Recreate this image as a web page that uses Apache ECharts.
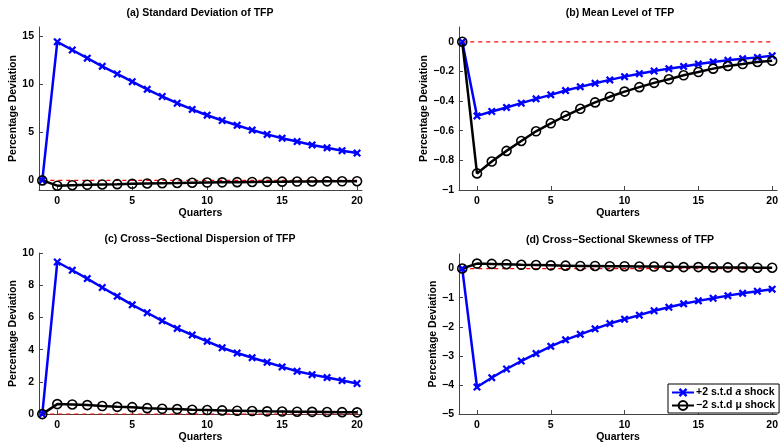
<!DOCTYPE html>
<html>
<head>
<meta charset="utf-8">
<script src="https://cdn.jsdelivr.net/npm/echarts@6/dist/echarts.min.js"></script>
<style>
  html, body { margin: 0; padding: 0; background: #fff; }
  #main { width: 781px; height: 444px; }
</style>
</head>
<body>
<div id="main"></div>
<script>
// quarters after the shock (-1 = pre-shock)
var quarters = [-1, 0, 1, 2, 3, 4, 5, 6, 7, 8, 9, 10, 11, 12, 13, 14, 15, 16, 17, 18, 19, 20];

// (a) standard deviation of TFP
var aBlue  = [0, 14.45, 13.6, 12.75, 11.9, 11.1, 10.3, 9.5, 8.75, 8.05, 7.4, 6.8, 6.25, 5.75, 5.25, 4.8, 4.4, 4.05, 3.7, 3.4, 3.1, 2.85];
var aBlack = [0, -0.55, -0.5, -0.46, -0.42, -0.39, -0.35, -0.32, -0.29, -0.27, -0.24, -0.22, -0.2, -0.18, -0.16, -0.15, -0.13, -0.12, -0.11, -0.1, -0.09, -0.08];
// (b) mean level of TFP
var bBlue  = [0, -0.5, -0.47, -0.443, -0.414, -0.385, -0.358, -0.329, -0.304, -0.28, -0.257, -0.235, -0.215, -0.197, -0.181, -0.166, -0.15, -0.136, -0.125, -0.114, -0.105, -0.094];
var bBlack = [0, -0.888, -0.808, -0.736, -0.669, -0.604, -0.55, -0.499, -0.452, -0.409, -0.371, -0.336, -0.306, -0.277, -0.253, -0.226, -0.204, -0.181, -0.163, -0.15, -0.136, -0.128];
// (c) cross-sectional dispersion
var cBlue  = [0, 9.44, 8.93, 8.41, 7.86, 7.32, 6.78, 6.29, 5.79, 5.32, 4.91, 4.52, 4.12, 3.79, 3.5, 3.22, 2.93, 2.66, 2.45, 2.27, 2.08, 1.9];
var cBlack = [0, 0.62, 0.6, 0.56, 0.5, 0.45, 0.43, 0.37, 0.33, 0.31, 0.27, 0.25, 0.23, 0.21, 0.19, 0.17, 0.16, 0.15, 0.14, 0.13, 0.12, 0.11];
// (d) cross-sectional skewness
var dBlue  = [0, -4.07, -3.75, -3.45, -3.18, -2.92, -2.67, -2.45, -2.26, -2.07, -1.89, -1.74, -1.6, -1.45, -1.33, -1.21, -1.11, -1.02, -0.93, -0.85, -0.78, -0.71];
var dBlack = [0, 0.17, 0.16, 0.15, 0.13, 0.12, 0.11, 0.1, 0.09, 0.09, 0.08, 0.08, 0.07, 0.07, 0.06, 0.05, 0.05, 0.04, 0.04, 0.04, 0.03, 0.03];

var xTicks  = [0, 5, 10, 15, 20];
var yTicksA = [0, 5, 10, 15];
var yTicksB = [-1, -0.8, -0.6, -0.4, -0.2, 0];
var yTicksC = [0, 2, 4, 6, 8, 10];
var yTicksD = [-5, -4, -3, -2, -1, 0];

var titles = ['(a) Standard Deviation of TFP', '(b) Mean Level of TFP',
              '(c) Cross\u2212Sectional Dispersion of TFP', '(d) Cross\u2212Sectional Skewness of TFP'];
var blueName = '+2 s.t.d a shock';
var blackName = '\u22122 s.t.d \u03bc shock';

var FONT = 'Liberation Sans, Arial, sans-serif';
var FS = 10.5;
var xMark = 'path://M0,2L2,0L5,3L8,0L10,2L7,5L10,8L8,10L5,7L2,10L0,8L3,5Z';

var grids = [
  {left: 39,  top: 27,  width: 323, height: 163},
  {left: 459, top: 27,  width: 323, height: 163},
  {left: 39,  top: 253, width: 323, height: 163},
  {left: 459, top: 254, width: 323, height: 163}
];
var yRanges = [[-1, 16], [-1, 0.1], [0, 10], [-5, 0.5]];
var yTicks = [yTicksA, yTicksB, yTicksC, yTicksD];
var nameGaps = [18, 26, 18, 17];
var blues = [aBlue, bBlue, cBlue, dBlue];
var blacks = [aBlack, bBlack, cBlack, dBlack];

function pairs(ys) {
  return quarters.map(function (q, i) { return [q, ys[i]]; });
}
function minus(v) { return String(v).replace('-', '\u2212'); }

var axisLine = {show: true, onZero: false, lineStyle: {color: '#444', width: 1}};
var tickStyle = {show: true, inside: true, length: 4, lineStyle: {color: '#444'}};
var nameStyle = {fontFamily: FONT, fontWeight: 'bold', fontSize: FS, color: '#000'};

var xAxes = [], yAxes = [], series = [], graphics = [];
grids.forEach(function (g, k) {
  xAxes.push({
    gridIndex: k, type: 'value', min: -1.22, max: 20.33,
    name: 'Quarters', nameLocation: 'middle', nameGap: 14.5, nameTextStyle: nameStyle,
    axisLine: axisLine, splitLine: {show: false},
    axisLabel: {customValues: xTicks, margin: 6, fontFamily: FONT, fontWeight: 'bold', fontSize: FS, color: '#000'},
    axisTick: Object.assign({customValues: xTicks}, tickStyle)
  });
  yAxes.push({
    gridIndex: k, type: 'value', min: yRanges[k][0], max: yRanges[k][1],
    name: 'Percentage Deviation', nameLocation: 'middle', nameGap: nameGaps[k], nameTextStyle: nameStyle,
    axisLine: axisLine, splitLine: {show: false},
    axisLabel: {customValues: yTicks[k], margin: 5, formatter: minus, fontFamily: FONT, fontWeight: 'bold', fontSize: FS, color: '#000'},
    axisTick: Object.assign({customValues: yTicks[k]}, tickStyle)
  });
  series.push({
    name: 'zero', type: 'line', xAxisIndex: k, yAxisIndex: k,
    data: pairs(quarters.map(function () { return 0; })),
    showSymbol: false, silent: true,
    lineStyle: {color: '#ff0000', width: 1.2, type: [4, 4]}
  });
  series.push({
    name: blueName, type: 'line', xAxisIndex: k, yAxisIndex: k,
    data: pairs(blues[k]), symbol: xMark, symbolSize: 8,
    itemStyle: {color: '#0000ff'},
    lineStyle: {color: '#0000ff', width: 2.5}
  });
  series.push({
    name: blackName, type: 'line', xAxisIndex: k, yAxisIndex: k,
    data: pairs(blacks[k]), symbol: 'circle', symbolSize: 9,
    itemStyle: {color: 'rgba(0,0,0,0)', borderColor: '#000', borderWidth: 1.6},
    lineStyle: {color: '#000', width: 2.5}
  });
  graphics.push({
    type: 'text', x: g.left + 161, y: g.top - 14,
    style: {text: titles[k], textAlign: 'center', textVerticalAlign: 'middle',
            font: 'bold ' + FS + 'px ' + FONT, fill: '#000'}
  });
});

var chart = echarts.init(document.getElementById('main'));
chart.setOption({
  animation: false,
  backgroundColor: '#fff',
  grid: grids,
  xAxis: xAxes,
  yAxis: yAxes,
  series: series,
  graphic: graphics,
  legend: {
    data: [blueName, blackName],
    orient: 'vertical', left: 668, top: 384,
    selectedMode: false,
    backgroundColor: '#fff', borderColor: '#000', borderWidth: 1,
    padding: [3, 4, 2, 3], itemGap: 2, itemWidth: 22, itemHeight: 11,
    formatter: function (n) { return n === blueName ? '+2 s.t.d {i|a} shock' : n; },
    textStyle: {fontFamily: FONT, fontWeight: 'bold', fontSize: FS, color: '#000', padding: [0, 0, 0, -3],
      rich: {i: {fontFamily: FONT, fontWeight: 'bold', fontStyle: 'italic', fontSize: FS, color: '#000'}}}
  }
});
</script>
</body>
</html>
